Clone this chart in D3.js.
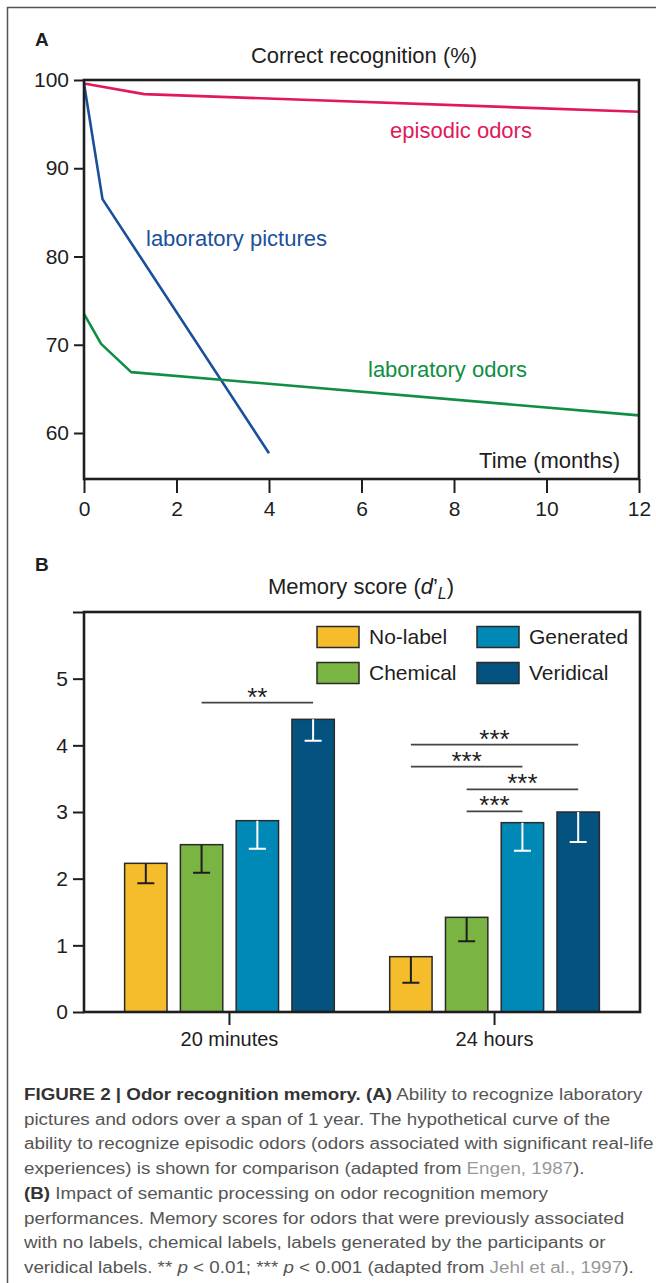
<!DOCTYPE html>
<html>
<head>
<meta charset="utf-8">
<script src="https://cdn.jsdelivr.net/npm/d3@7"></script>
<style>
  body { margin: 0; background: #fff; }
  svg { display: block; font-family: "Liberation Sans", Arial, Helvetica, sans-serif; }
  .cap { white-space: pre; }
</style>
</head>
<body>
<div id="fig"></div>
<script>
// ---- Panel A: recognition over time ----
var monthTicks = [0, 2, 4, 6, 8, 10, 12];
var recogTicks = [60, 70, 80, 90, 100];
var episodicMonths = [0, 1.3, 12];
var episodicPct = [99.6, 98.4, 96.4];
var picturesMonths = [0, 0.4, 4];
var picturesPct = [99.6, 86.5, 57.7];
var odorsMonths = [0, 0.37, 1.02, 12];
var odorsPct = [73.5, 70.1, 66.9, 62.0];

// ---- Panel B: memory score by label type ----
var delays = ["20 minutes", "24 hours"];
var labelTypes = ["No-label", "Chemical", "Generated", "Veridical"];
var score20min = [2.23, 2.51, 2.87, 4.39];
var errLow20min = [1.93, 2.09, 2.45, 4.07];
var score24h = [0.83, 1.42, 2.84, 3.00];
var errLow24h = [0.44, 1.06, 2.42, 2.55];
var scoreTicks = [0, 1, 2, 3, 4, 5, 6];

// significance brackets (delay index, from bar, to bar, height, stars)
var sigDelay = [0, 1, 1, 1, 1];
var sigFrom = [1, 0, 0, 1, 1];
var sigTo = [3, 3, 2, 3, 2];
var sigLevel = [4.64, 4.01, 3.68, 3.34, 3.01];
var sigStars = ["**", "***", "***", "***", "***"];

var W = 656, H = 1283;
var ink = "#1e1e1e";

var svg = d3.select("#fig").append("svg")
    .attr("width", W)
    .attr("height", H);

svg.append("rect").attr("width", W).attr("height", H).attr("fill", "#fff");

// outer frame (left + top only)
svg.append("path")
    .attr("d", "M7.5," + H + "V7.5H" + W)
    .attr("fill", "none")
    .attr("stroke", "#555")
    .attr("stroke-width", 1.5);

function styleAxis(g, size) {
    g.select(".domain").remove();
    g.selectAll(".tick line").attr("stroke", ink).attr("stroke-width", 2);
    g.selectAll(".tick text")
        .attr("font-size", size)
        .attr("font-family", "Liberation Sans, Arial, sans-serif")
        .attr("fill", ink);
}

// ================= Panel A =================
var boxA = {left: 84, right: 639, top: 80, bottom: 479};
var xA = d3.scaleLinear().domain([0, 12]).range([boxA.left, boxA.right]);
var yA = d3.scaleLinear().domain([60, 100]).range([433, boxA.top]);

svg.append("text")
    .attr("x", 35).attr("y", 46)
    .attr("font-size", 19).attr("font-weight", "bold").attr("fill", ink)
    .text("A");

svg.append("text")
    .attr("x", 364).attr("y", 55).attr("dy", "0.35em")
    .attr("text-anchor", "middle")
    .attr("font-size", 22).attr("fill", ink)
    .text("Correct recognition (%)");

svg.append("g")
    .attr("transform", "translate(" + boxA.left + ",0)")
    .call(d3.axisLeft(yA).tickValues(recogTicks).tickSize(10).tickPadding(5))
    .call(styleAxis, 21);

svg.append("g")
    .attr("transform", "translate(0," + boxA.bottom + ")")
    .call(d3.axisBottom(xA).tickValues(monthTicks).tickSize(14).tickPadding(8))
    .call(styleAxis, 21);

var lineA = d3.line().x(d => xA(d[0])).y(d => yA(d[1]));

var seriesA = [
    {pts: d3.zip(episodicMonths, episodicPct), color: "#e1195a"},
    {pts: d3.zip(picturesMonths, picturesPct), color: "#1b4f9c"},
    {pts: d3.zip(odorsMonths, odorsPct), color: "#0f8e44"}
];

svg.selectAll(".seriesA")
    .data(seriesA)
    .enter()
    .append("path")
    .attr("class", "seriesA")
    .attr("d", d => lineA(d.pts))
    .attr("fill", "none")
    .attr("stroke", d => d.color)
    .attr("stroke-width", 2.6)
    .attr("stroke-linejoin", "round");

svg.append("rect")
    .attr("x", boxA.left).attr("y", boxA.top)
    .attr("width", boxA.right - boxA.left)
    .attr("height", boxA.bottom - boxA.top)
    .attr("fill", "none")
    .attr("stroke", ink)
    .attr("stroke-width", 2.6);

// series labels
svg.append("text").attr("x", 461).attr("y", 130).attr("dy", "0.35em")
    .attr("text-anchor", "middle").attr("font-size", 22).attr("fill", "#e1195a")
    .text("episodic odors");
svg.append("text").attr("x", 146).attr("y", 238).attr("dy", "0.35em")
    .attr("font-size", 22).attr("fill", "#1b4f9c")
    .text("laboratory pictures");
svg.append("text").attr("x", 368).attr("y", 369).attr("dy", "0.35em")
    .attr("font-size", 22).attr("fill", "#0f8e44")
    .text("laboratory odors");
svg.append("text").attr("x", 620).attr("y", 460).attr("dy", "0.35em")
    .attr("text-anchor", "end").attr("font-size", 22).attr("fill", ink)
    .text("Time (months)");

// ================= Panel B =================
var boxB = {left: 84, right: 640, top: 612, bottom: 1012};
var yB = d3.scaleLinear().domain([0, 6]).range([boxB.bottom, boxB.top]);
var x0 = d3.scaleBand().domain(delays).range([boxB.left, boxB.right])
    .paddingInner(0.1585).paddingOuter(0.128);
var x1 = d3.scaleBand().domain(labelTypes).range([0, x0.bandwidth()])
    .paddingInner(0.24).paddingOuter(0.12);
var barColors = d3.scaleOrdinal().domain(labelTypes)
    .range(["#f5bd2c", "#7ab543", "#0089b7", "#03527f"]);
var errColors = d3.scaleOrdinal().domain(labelTypes)
    .range([ink, ink, "#fff", "#fff"]);

svg.append("text")
    .attr("x", 35).attr("y", 571)
    .attr("font-size", 19).attr("font-weight", "bold").attr("fill", ink)
    .text("B");

var titleB = svg.append("text")
    .attr("x", 361).attr("y", 586).attr("dy", "0.35em")
    .attr("text-anchor", "middle")
    .attr("font-size", 22).attr("fill", ink);
titleB.append("tspan").text("Memory score (");
titleB.append("tspan").attr("font-style", "italic").text("d");
titleB.append("tspan").text("\u2019");
titleB.append("tspan").attr("font-style", "italic").attr("font-size", 16).attr("dy", 5).text("L");
titleB.append("tspan").attr("dy", -5).text(")");

svg.append("g")
    .attr("transform", "translate(" + boxB.left + ",0)")
    .call(d3.axisLeft(yB).tickValues(scoreTicks)
        .tickFormat(d => d === 6 ? "" : d)
        .tickSize(11).tickPadding(5))
    .call(styleAxis, 21);

svg.append("g")
    .attr("transform", "translate(0," + boxB.bottom + ")")
    .call(d3.axisBottom(x0).tickSize(13).tickPadding(7))
    .call(styleAxis, 20);

var barRows = [];
delays.forEach(function(dl, i) {
    var sc = i === 0 ? score20min : score24h;
    var lo = i === 0 ? errLow20min : errLow24h;
    labelTypes.forEach(function(t, j) {
        barRows.push({delay: dl, type: t, score: sc[j], low: lo[j]});
    });
});

var barG = svg.selectAll(".bar")
    .data(barRows)
    .enter()
    .append("g")
    .attr("class", "bar")
    .attr("transform", d => "translate(" + x0(d.delay) + ",0)");

barG.append("rect")
    .attr("x", d => x1(d.type))
    .attr("y", d => yB(d.score))
    .attr("width", x1.bandwidth())
    .attr("height", d => yB(0) - yB(d.score))
    .attr("fill", d => barColors(d.type))
    .attr("stroke", "#2a2a2a")
    .attr("stroke-width", 1.5);

var cap = 8.5;
barG.append("path")
    .attr("d", function(d) {
        var cx = x1(d.type) + x1.bandwidth() / 2;
        return "M" + cx + "," + yB(d.score) + "V" + yB(d.low) +
            "M" + (cx - cap) + "," + yB(d.low) + "H" + (cx + cap);
    })
    .attr("fill", "none")
    .attr("stroke", d => errColors(d.type))
    .attr("stroke-width", 2);

// significance brackets
function barCenter(di, bi) {
    return x0(delays[di]) + x1(labelTypes[bi]) + x1.bandwidth() / 2;
}
sigLevel.forEach(function(lv, k) {
    var xa = barCenter(sigDelay[k], sigFrom[k]);
    var xb = barCenter(sigDelay[k], sigTo[k]);
    svg.append("line")
        .attr("x1", xa).attr("x2", xb)
        .attr("y1", yB(lv)).attr("y2", yB(lv))
        .attr("stroke", "#444").attr("stroke-width", 1.6);
    svg.append("text")
        .attr("x", (xa + xb) / 2).attr("y", yB(lv) + 3)
        .attr("text-anchor", "middle")
        .attr("font-size", 26)
        .attr("fill", ink)
        .text(sigStars[k]);
});

svg.append("rect")
    .attr("x", boxB.left).attr("y", boxB.top)
    .attr("width", boxB.right - boxB.left)
    .attr("height", boxB.bottom - boxB.top)
    .attr("fill", "none")
    .attr("stroke", ink)
    .attr("stroke-width", 2.6);

// legend: two columns
var legX = [317, 477], legY = [637, 673];
var leg = svg.selectAll(".leg")
    .data(labelTypes)
    .enter()
    .append("g")
    .attr("class", "leg")
    .attr("transform", (d, j) => "translate(" + legX[Math.floor(j / 2)] + "," + legY[j % 2] + ")");
leg.append("rect")
    .attr("x", 0).attr("y", -10.5)
    .attr("width", 42).attr("height", 21)
    .attr("fill", d => barColors(d))
    .attr("stroke", "#2a2a2a").attr("stroke-width", 1.5);
leg.append("text")
    .attr("x", 52).attr("dy", "0.35em")
    .attr("font-size", 21).attr("fill", ink)
    .text(d => d);

// ================= Caption =================
var captionLines = [
    [["FIGURE 2 | Odor recognition memory. (A)", "b"], [" Ability to recognize laboratory", ""]],
    [["pictures and odors over a span of 1 year. The hypothetical curve of the", ""]],
    [["ability to recognize episodic odors (odors associated with significant real-life", ""]],
    [["experiences) is shown for comparison (adapted from ", ""], ["Engen, 1987", "g"], [").", ""]],
    [["(B)", "b"], [" Impact of semantic processing on odor recognition memory", ""]],
    [["performances. Memory scores for odors that were previously associated", ""]],
    [["with no labels, chemical labels, labels generated by the participants or", ""]],
    [["veridical labels. ** ", ""], ["p", "i"], [" < 0.01; *** ", ""], ["p", "i"],
     [" < 0.001 (adapted from ", ""], ["Jehl et al., 1997", "g"], [").", ""]]
];

var capNodes = captionLines.map(function(segs, i) {
    var t = svg.append("text")
        .attr("class", "cap")
        .attr("font-size", 16)
        .attr("fill", "#555");
    segs.forEach(function(s) {
        var sp = t.append("tspan").text(s[0]);
        if (s[1] === "b") sp.attr("font-weight", "bold").attr("fill", "#333");
        if (s[1] === "i") sp.attr("font-style", "italic");
        if (s[1] === "g") sp.attr("fill", "#999");
    });
    return t;
});

// all lines share one horizontal scale, fitted to the longest line
var sx = (654 - 24) / capNodes[2].node().getComputedTextLength();
capNodes.forEach(function(t, i) {
    t.attr("transform", "translate(24," + (1100 + i * 24.7) + ") scale(" + sx + ",1)");
});
</script>
</body>
</html>
